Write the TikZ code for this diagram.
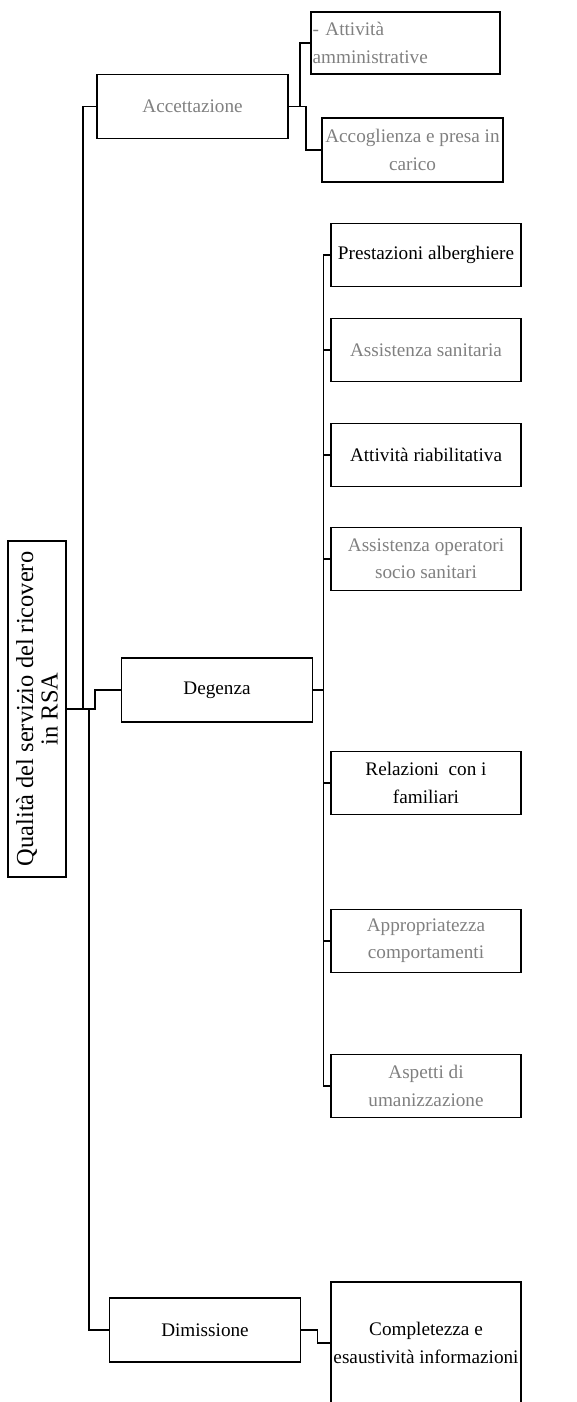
\documentclass[tikz,border=0pt]{standalone}
\usepackage{fontspec}
\setmainfont{Liberation Serif}
\usetikzlibrary{positioning}
\definecolor{txtgray}{RGB}{128,128,128}

\begin{document}
\begin{tikzpicture}[
      x=0.75pt, y=-0.75pt,
      block/.style={
        rectangle,
        draw,
        line width=1.4pt,
        align=center,
        inner sep=1.2pt,
        font=\fontsize{14.4}{20.5}\selectfont,
      },
      branch/.style={
        minimum width=143.25pt,
        minimum height=48pt,
      },
      leaf/.style={
        minimum width=142.5pt,
        minimum height=47.25pt,
      },
      root/.style={
        rotate=90,
        minimum width=252pt,
        minimum height=43.5pt,
        font=\fontsize{18.3}{18.5}\selectfont,
      },
      grey/.style={
        text=txtgray,
      },
      link/.style={
        line width=1.4pt,
      },
    ]
    \useasboundingbox (0,0) rectangle (576,1402);
    \coordinate (quality) at (37,709);
    \coordinate (acceptance) at (192.5,106.5);
    \coordinate (admin) at (405.5,43);
    \coordinate (welcome) at (412.5,150);
    \coordinate (stay) at (217,690);
    \coordinate (hotel) at (426,255);
    \coordinate (health) at (426,350);
    \coordinate (rehab) at (426,455);
    \coordinate (oss) at (426,559);
    \coordinate (family) at (426,783);
    \coordinate (behaviour) at (426,941);
    \coordinate (human) at (426,1086);
    \coordinate (discharge) at (205,1330);
    \coordinate (info) at (426,1343);
    \node[block, root] (quality-node) at (quality) {Qualità del servizio del ricovero\\in RSA};
    \node[block, branch, grey] (acceptance-node) at (acceptance) {Accettazione};
    \node[block, grey, text width=139.35pt, minimum height=46.5pt, align=left] (admin-node) at (admin) {- Attività\\amministrative};
    \node[block, grey, minimum width=135.75pt, minimum height=48pt] (welcome-node) at (welcome) {Accoglienza e presa in\\carico};
    \node[block, branch] (stay-node) at (stay) {Degenza};
    \node[block, leaf] (hotel-node) at (hotel) {Prestazioni alberghiere};
    \node[block, leaf, grey] (health-node) at (health) {Assistenza sanitaria};
    \node[block, leaf] (rehab-node) at (rehab) {Attività riabilitativa};
    \node[block, leaf, grey] (oss-node) at (oss) {Assistenza operatori\\socio sanitari};
    \node[block, leaf] (family-node) at (family) {Relazioni\enspace con i\\familiari};
    \node[block, leaf, grey] (behaviour-node) at (behaviour) {Appropriatezza\\comportamenti};
    \node[block, leaf, grey] (human-node) at (human) {Aspetti di\\umanizzazione};
    \node[block, branch] (discharge-node) at (discharge) {Dimissione};
    \node[block, leaf, minimum height=91.5pt] (info-node) at (info) {Completezza e\\esaustività informazioni};
    % root to the three phases
    \draw[link] (quality-node.south) -- ++(16,0) |- (acceptance-node.west);
    \draw[link] (quality-node.south) -- ++(28,0) |- (stay-node.west);
    \draw[link] (quality-node.south) -- ++(22,0) |- (discharge-node.west);
    % accettazione
    \draw[link] (acceptance-node.east) -- ++(11,0) |- (admin-node.west);
    \draw[link] (acceptance-node.east) -- ++(17,0) |- (welcome-node.west);
    % degenza
    \draw[link] (stay-node.east) -- ++(10,0) |- (hotel-node.west);
    \draw[link] (stay-node.east) -- ++(10,0) |- (health-node.west);
    \draw[link] (stay-node.east) -- ++(10,0) |- (rehab-node.west);
    \draw[link] (stay-node.east) -- ++(10,0) |- (oss-node.west);
    \draw[link] (stay-node.east) -- ++(10,0) |- (family-node.west);
    \draw[link] (stay-node.east) -- ++(10,0) |- (behaviour-node.west);
    \draw[link] (stay-node.east) -- ++(10,0) |- (human-node.west);
    % dimissione
    \draw[link] (discharge-node.east) -- ++(16,0) |- (info-node.west);
  \end{tikzpicture}
\end{document}
